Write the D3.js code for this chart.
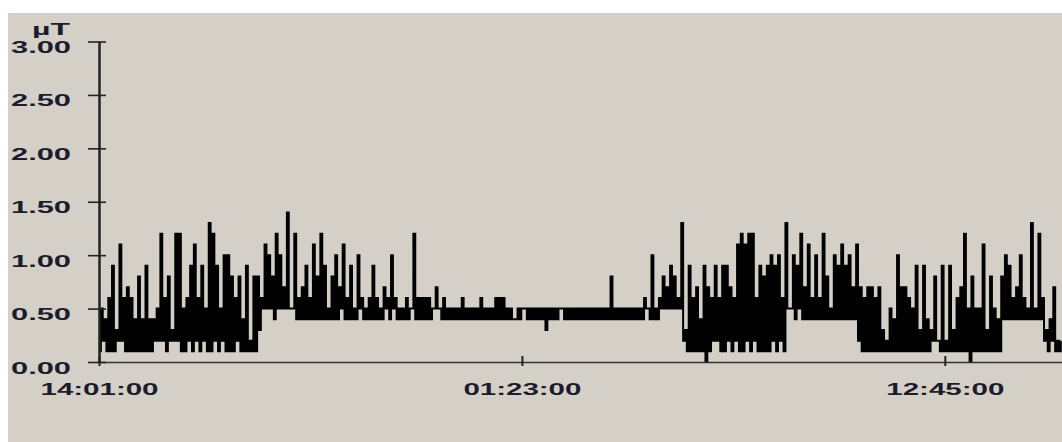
<!DOCTYPE html>
<html><head><meta charset="utf-8">
<script src="https://cdn.jsdelivr.net/npm/d3@7"></script>
<style>html,body{margin:0;padding:0;background:#fff;overflow:hidden}</style>
</head><body><svg id="c" width="1062" height="442"></svg>
<script>
// ---- data (µT, one reading every 3 minutes, starting 14:01:00) ----
const startClock = [14, 1, 0];
const sampleMinutes = 3;
const spanMinutes = 1553;
const tickOffsetsMin = [0, 682, 1364]; // 14:01:00, 01:23:00, 12:45:00
const yTicks = [0, 0.5, 1, 1.5, 2, 2.5, 3];
const unitLabel = "µT";

const eveningReadings = [
.1,.5, .2,.4, .1,.6, .1,.9, .1,.3, .2,1.1, .2,.6, .1,.7, .1,.6, .1,.4,
.1,.8, .1,.4, .1,.9, .1,.4, .1,.4, .2,.5, .2,1.2, .2,.6, .1,.8, .2,.3,
.2,1.2, .2,1.2, .1,.5, .1,.6, .2,.9, .1,1.1, .2,.6, .1,.9, .2,.5, .1,1.3,
.1,1.2, .2,.9, .1,.5, .2,1.0, .1,1.0, .1,.8, .1,.6, .2,.8, .1,.4, .1,.9,
.1,.2, .1,.8, .1,.8, .3,.6, .5,1.1, .5,1.0, .5,.8, .4,1.2, .5,1.0, .5,.7,
.5,1.4, .5,.5, .5,1.2, .4,.6, .4,.7, .4,.9, .4,.6, .4,1.1, .4,.8, .4,1.2,
.4,.9, .4,.5, .4,.8, .4,1.0, .4,.7, .5,1.1, .4,.6, .4,.9, .4,.5, .4,1.0,
.5,.6, .4,.5, .4,.6, .4,.9, .4,.6, .4,.5, .4,.7, .5,.6, .4,1.0, .5,.6,
.4,.5, .4,.5, .4,.6, .4,.5, .5,1.2, .4,.6, .4,.6, .4,.6
];

const nightReadings = [
.4,.6, .4,.5, .5,.7, .5,.5, .4,.6, .4,.5, .4,.5, .4,.5, .4,.5, .4,.6,
.4,.5, .4,.5, .4,.5, .4,.5, .4,.6, .4,.5, .4,.5, .4,.5, .4,.6, .4,.6,
.4,.6, .4,.5, .4,.5, .4,.4, .4,.5, .4,.5, .5,.5, .4,.5, .4,.5, .4,.5,
.4,.5, .4,.5, .3,.5, .4,.5, .4,.5, .4,.5, .5,.5, .4,.5,
.4,.5, .4,.5, .4,.5, .4,.5, .4,.5, .4,.5, .4,.5, .4,.5, .4,.5, .4,.5, .4,.5,
.4,.8,
.4,.5, .4,.5, .4,.5, .4,.5, .4,.5, .4,.5, .4,.5, .4,.5,
.4,.6, .5,.5, .4,1.0, .4,.5, .4,.6, .5,.8, .5,.7, .5,.9, .5,.8, .5,.6,
.5,1.3, .2,.3, .1,.9, .1,.6, .1,.7, .1,.4, .1,.9, 0,.7, .1,.6, .2,.9,
.2,.6, .1,.9, .1,.9, .2,.7, .1,.6, .2,1.1, .1,1.2, .1,1.1
];

const dayReadings = [
.2,1.2, .1,1.2, .2,.6, .1,.9, .1,.8, .1,.9, .1,1.0, .2,.9, .1,1.0, .2,.6,
.1,1.3, .5,.5, .5,1.0, .4,.9, .5,1.2, .4,.7, .4,1.1, .4,.6, .4,1.0, .4,.6,
.4,1.2, .4,.8, .4,.5, .4,1.0, .4,.9, .4,1.1, .4,.9, .4,1.0, .4,.7, .4,1.1,
.2,.7, .1,.6, .1,.7, .1,.7, .1,.6, .1,.7, .1,.3, .1,.2, .1,.5, .1,.4,
.1,1.0, .1,.7, .1,.7, .1,.6, .1,.5, .1,.9, .1,.3, .1,.9, .1,.4, .1,.3,
.2,.8, .2,.2, .1,.9, .1,.2, .1,.9, .1,.3, .1,.6, .1,.7, .1,1.2, .1,.5,
0,.8, .1,.5, .1,.5, .1,1.1, .1,.3, .1,.8, .1,.5, .1,.4, .1,.8, .4,1.0,
.4,.9, .4,.6, .4,.7, .4,1.0, .4,.6, .4,.5, .4,1.3, .4,.5, .4,1.2, .4,.6,
.2,.3, .1,.4, .2,.7, .1,.2, .1,.2
];

// ---- build ----
const t0 = new Date(2000, 0, 1, startClock[0], startClock[1], startClock[2]);
const readings = eveningReadings.concat(nightReadings, dayReadings);
const data = readings.map((v, i) => ({ t: new Date(+t0 + i * sampleMinutes * 60000), v }));
const tickDates = tickOffsetsMin.map(m => new Date(+t0 + m * 60000));

const svg = d3.select("#c");
svg.append("rect").attr("x", 8).attr("y", 13).attr("width", 1054).attr("height", 429).attr("fill", "#d4d0c8");

const x = d3.scaleTime().domain([t0, new Date(+t0 + spanMinutes * 60000)]).range([99, 1062]);
const y = d3.scaleLinear().domain([0, 3]).range([362, 41.5]);

const line = d3.line().x(d => x(d.t)).y(d => y(d.v)).curve(d3.curveStepAfter);
svg.append("path").datum(data).attr("d", line)
  .attr("fill", "none").attr("stroke", "#000").attr("stroke-width", 2);

const font = "'Liberation Sans', Arial, sans-serif";
const textColor = "#1c1c2c";

const gx = svg.append("g").attr("transform", "translate(0,362)")
  .call(d3.axisBottom(x).tickValues(tickDates).tickFormat(d3.timeFormat("%H:%M:%S")).tickSizeInner(4).tickSizeOuter(0))
  .attr("font-family", font).attr("font-size", 16).attr("font-weight", "bold");
gx.select(".domain").attr("stroke", "#333").attr("stroke-width", 1.6);
gx.selectAll(".tick line").attr("y1", -6).attr("y2", 4).attr("stroke", "#222").attr("stroke-width", 2);
gx.selectAll(".tick text").attr("y", 33).attr("dy", 0).attr("fill", textColor)
  .attr("textLength", 118).attr("lengthAdjust", "spacingAndGlyphs");

const gy = svg.append("g").attr("transform", "translate(99,0)")
  .call(d3.axisLeft(y).tickValues(yTicks).tickFormat(d3.format(".2f")).tickSizeInner(11).tickSizeOuter(0))
  .attr("font-family", font).attr("font-size", 16).attr("font-weight", "bold");
gy.select(".domain").attr("stroke", "#222").attr("stroke-width", 2.5);
gy.selectAll(".tick line").attr("x1", 7).attr("x2", -11).attr("stroke", "#222").attr("stroke-width", 1.6);
gy.selectAll(".tick text").attr("x", -28).attr("y", 11).attr("dy", 0).attr("fill", textColor)
  .attr("textLength", 60).attr("lengthAdjust", "spacingAndGlyphs");

svg.append("text").attr("x", 70).attr("y", 35).attr("text-anchor", "end")
  .attr("font-family", font).attr("font-size", 16).attr("font-weight", "bold").attr("fill", textColor)
  .attr("textLength", 38).attr("lengthAdjust", "spacingAndGlyphs").text(unitLabel);
</script></body></html>
